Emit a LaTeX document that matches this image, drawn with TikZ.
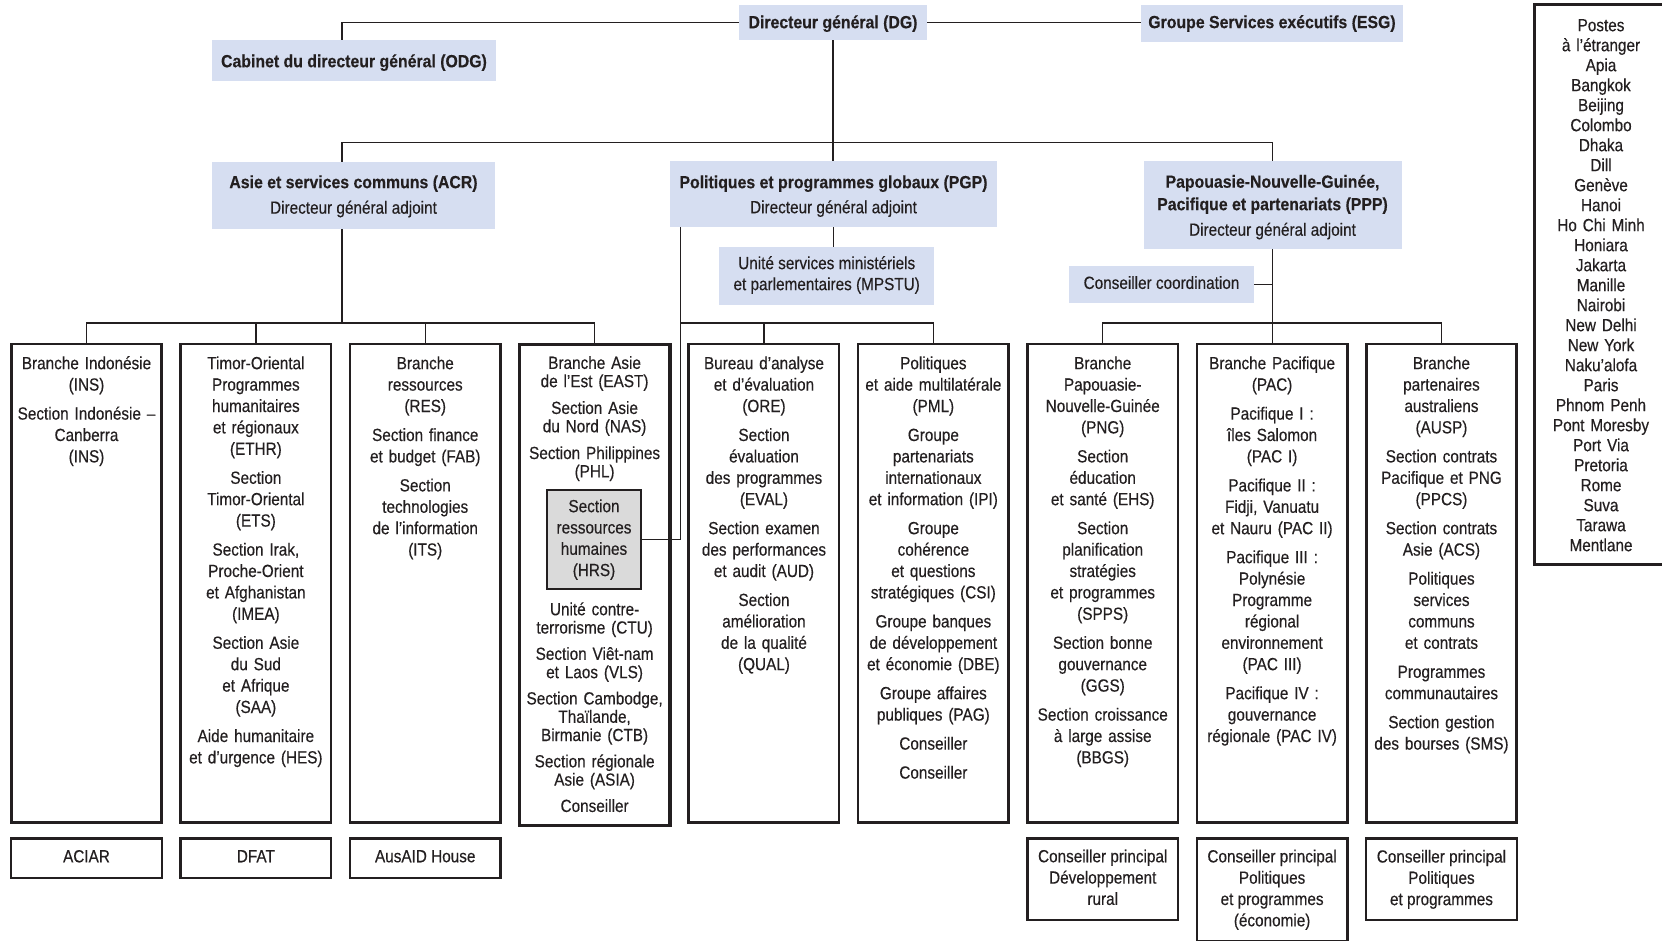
\documentclass[tikz,border=0pt]{standalone}
\usepackage{fontspec}
\setmainfont{Liberation Sans}[UprightFeatures={FakeStretch=0.87,FakeBold=0.4},BoldFeatures={FakeStretch=0.9,FakeBold=0.3}]
\usetikzlibrary{calc}
\definecolor{hdblue}{RGB}{214,222,241}
\definecolor{hrsgray}{RGB}{218,218,218}
\definecolor{ink}{RGB}{35,31,32}

\begin{document}
\begin{tikzpicture}[x=1pt,y=-1pt,
  every node/.style={text=ink},
  conn/.style={draw=ink, line width=1.3pt},
  hd/.style={fill=hdblue, inner sep=0pt, align=center, font=\fontsize{17.6}{22.5}\selectfont},
  droptxt/.style={execute at begin node={\rule{0pt}{#1}}},
  lifttxt/.style={execute at end node={\rule[-#1]{0pt}{0pt}}},
  colbox/.style={draw=ink, line width=2.6pt, minimum width=150.4pt, minimum height=478.2pt, inner sep=0pt},
  coltxt/.style={anchor=base, text width=170pt, align=center, inner sep=0pt, font=\fontsize{17.6}{21.4}\selectfont},
  subbox/.style={draw=ink, line width=2.4pt, minimum width=150.6pt, inner sep=0pt, align=center, font=\fontsize{17.6}{21.3}\selectfont}]
  \useasboundingbox (0,0) rectangle (1662,941);

  % 间距（改这里就能调整文字组之间的空隙）
  \def\gp{7.6pt}
  \def\gq{8.5pt}
  \def\gr{8pt}

  % 顶层
  \node[hd, droptxt=15.2pt, minimum width=188pt, minimum height=35pt] (dg) at (833,22.5) {\textbf{Directeur général (DG)}};
  \node[hd, minimum width=262pt, minimum height=37pt] (esg) at (1272,23.5) {\textbf{Groupe Services exécutifs (ESG)}};
  \node[hd, droptxt=17.2pt, minimum width=284pt, minimum height=41pt] (odg) at (354,60.5) {\textbf{Cabinet du directeur général (ODG)}};

  % 三个副总
  \node[hd, minimum width=283pt, minimum height=67pt] (acr) at (353.5,195.5) {\rule{0pt}{14.5pt}\textbf{Asie et services communs (ACR)}\\[3pt]Directeur général adjoint};
  \node[hd, minimum width=327pt, minimum height=66pt] (pgp) at (833.5,194) {\rule{0pt}{17.1pt}\textbf{Politiques et programmes globaux (PGP)}\\[2.5pt]Directeur général adjoint};
  \node[hd, minimum width=258pt, minimum height=88pt] (ppp) at (1272.5,205) {\rule{0pt}{17.1pt}\textbf{Papouasie-Nouvelle-Guinée,}\\\textbf{Pacifique et partenariats (PPP)}\\[3pt]Directeur général adjoint};
  \node[hd, lifttxt=5.7pt, minimum width=215.5pt, minimum height=58pt, font=\fontsize{17.6}{21}\selectfont] (mpstu) at (826.7,276) {Unité services ministériels\\et parlementaires (MPSTU)};
  \node[hd, lifttxt=4pt, minimum width=185pt, minimum height=37pt] (coord) at (1161.5,284.5) {Conseiller coordination};

  % 九个大框
  \foreach \i in {1,2,3,5,6,7,8,9}{
    \pgfmathsetmacro{\cx}{86.5+(\i-1)*169.37}
    \node[colbox] (c\i) at (\cx,583.1) {};
  }
  \node[colbox, line width=3.7pt, minimum height=481pt] (c4) at (594.6,585) {};

  \node[coltxt] (t1) at ($(c1.north)+(0,26.5)$) {Branche Indonésie\\(INS)\\[\gp]Section Indonésie –\\Canberra\\(INS)};
  \node[coltxt] (t2) at ($(c2.north)+(0,26.5)$) {Timor-Oriental\\Programmes\\humanitaires\\et régionaux\\(ETHR)\\[\gp]Section\\Timor-Oriental\\(ETS)\\[\gp]Section Irak,\\Proche-Orient\\et Afghanistan\\(IMEA)\\[\gp]Section Asie\\du Sud\\et Afrique\\(SAA)\\[\gp]Aide humanitaire\\et d’urgence (HES)};
  \node[coltxt] (t3) at ($(c3.north)+(0,26.5)$) {Branche\\ressources\\(RES)\\[\gp]Section finance\\et budget (FAB)\\[\gp]Section\\technologies\\de l’information\\(ITS)};
  \node[coltxt, font=\fontsize{17.6}{18.3}\selectfont] (t4a) at ($(c4.north)+(0,26.2)$) {Branche Asie\\de l’Est (EAST)\\[\gq]Section Asie\\du Nord (NAS)\\[\gq]Section Philippines\\(PHL)};
  \node[draw=ink, line width=2pt, fill=hrsgray, minimum width=94.3pt, minimum height=98.7pt, inner sep=0pt, align=center, font=\fontsize{17.6}{21.3}\selectfont] (hrs) at (594,539.6) {Section\\ressources\\humaines\\(HRS)};
  \node[coltxt, font=\fontsize{17.6}{18.3}\selectfont] (t4b) at ($(c4.north)+(0,272.6)$) {Unité contre-\\terrorisme (CTU)\\[\gr]Section Viêt-nam\\et Laos (VLS)\\[\gr]Section Cambodge,\\Thaïlande,\\Birmanie (CTB)\\[\gr]Section régionale\\Asie (ASIA)\\[\gr]Conseiller};
  \node[coltxt] (t5) at ($(c5.north)+(0,26.5)$) {Bureau d’analyse\\et d’évaluation\\(ORE)\\[\gp]Section\\évaluation\\des programmes\\(EVAL)\\[\gp]Section examen\\des performances\\et audit (AUD)\\[\gp]Section\\amélioration\\de la qualité\\(QUAL)};
  \node[coltxt] (t6) at ($(c6.north)+(0,26.5)$) {Politiques\\et aide multilatérale\\(PML)\\[\gp]Groupe\\partenariats\\internationaux\\et information (IPI)\\[\gp]Groupe\\cohérence\\et questions\\stratégiques (CSI)\\[\gp]Groupe banques\\de développement\\et économie (DBE)\\[\gp]Groupe affaires\\publiques (PAG)\\[\gp]Conseiller\\[\gp]Conseiller};
  \node[coltxt] (t7) at ($(c7.north)+(0,26.5)$) {Branche\\Papouasie-\\Nouvelle-Guinée\\(PNG)\\[\gp]Section\\éducation\\et santé (EHS)\\[\gp]Section\\planification\\stratégies\\et programmes\\(SPPS)\\[\gp]Section bonne\\gouvernance\\(GGS)\\[\gp]Section croissance\\à large assise\\(BBGS)};
  \node[coltxt] (t8) at ($(c8.north)+(0,26.5)$) {Branche Pacifique\\(PAC)\\[\gp]Pacifique I :\\îles Salomon\\(PAC I)\\[\gp]Pacifique II :\\Fidji, Vanuatu\\et Nauru (PAC II)\\[\gp]Pacifique III :\\Polynésie\\Programme\\régional\\environnement\\(PAC III)\\[\gp]Pacifique IV :\\gouvernance\\régionale (PAC IV)};
  \node[coltxt] (t9) at ($(c9.north)+(0,26.5)$) {Branche\\partenaires\\australiens\\(AUSP)\\[\gp]Section contrats\\Pacifique et PNG\\(PPCS)\\[\gp]Section contrats\\Asie (ACS)\\[\gp]Politiques\\services\\communs\\et contrats\\[\gp]Programmes\\communautaires\\[\gp]Section gestion\\des bourses (SMS)};

  % 底部小框
  \foreach \i/\lbl in {1/ACIAR,2/DFAT,3/AusAID House}{
    \node[subbox, minimum height=39.6pt] (b\i) at ($(c\i.south)+(0,34.8)$) {\lbl\rule[-4.2pt]{0pt}{0pt}};
  }
  \node[subbox, minimum height=81.6pt] (b7) at ($(c7.south)+(0,55.8)$) {Conseiller principal\\Développement\\rural\rule[-4.2pt]{0pt}{0pt}};
  \node[subbox, minimum height=102.6pt] (b8) at ($(c8.south)+(0,66.3)$) {Conseiller principal\\Politiques\\et programmes\\(économie)};
  \node[subbox, minimum height=81.6pt] (b9) at ($(c9.south)+(0,55.8)$) {Conseiller principal\\Politiques\\et programmes};

  % 驻外机构
  \draw[ink, line width=2.7pt] (1665,4.7) -| (1534.7,564.3) -- (1665,564.3);
  \node[anchor=base, text width=140pt, align=center, inner sep=0pt, font=\fontsize{17.6}{20}\selectfont] (postes) at (1601,31.2) {Postes\\à l’étranger\\Apia\\Bangkok\\Beijing\\Colombo\\Dhaka\\Dill\\Genève\\Hanoi\\Ho Chi Minh\\Honiara\\Jakarta\\Manille\\Nairobi\\New Delhi\\New York\\Naku’alofa\\Paris\\Phnom Penh\\Pont Moresby\\Port Via\\Pretoria\\Rome\\Suva\\Tarawa\\Mentlane};

  % 连线
  \coordinate (busA) at (342,323);
  \coordinate (busT) at (833,142.7);
  \coordinate (busP) at (680.5,323);
  \coordinate (busQ) at (1272.5,323);

  \draw[conn] (dg.west) -| (odg.north -| busA);
  \draw[conn] (dg.east) -- (dg.east -| esg.west);
  \draw[conn] (dg.south) -- (dg.south |- pgp.north);
  \draw[conn] (acr.north -| busA) |- (busT) -| (ppp.north);

  \draw[conn] (acr.south -| busA) -- (busA);
  \draw[conn] (c1.north) |- (busA) -| (c4.north);
  \draw[conn] (c2.north) -- (c2.north |- busA);
  \draw[conn] (c3.north) -- (c3.north |- busA);

  \draw[conn] (pgp.south) -- (pgp.south |- mpstu.north);
  \draw[conn] (pgp.south -| busP) |- (hrs.east);
  \draw[conn] (busP) -| (c6.north);
  \draw[conn] (c5.north) -- (c5.north |- busP);

  \draw[conn] (ppp.south) -- (ppp.south |- c8.north);
  \draw[conn] (c7.north) |- (busQ) -| (c9.north);
  \draw[conn] (coord.east) -- (coord.east -| ppp.south);
\end{tikzpicture}
\end{document}
